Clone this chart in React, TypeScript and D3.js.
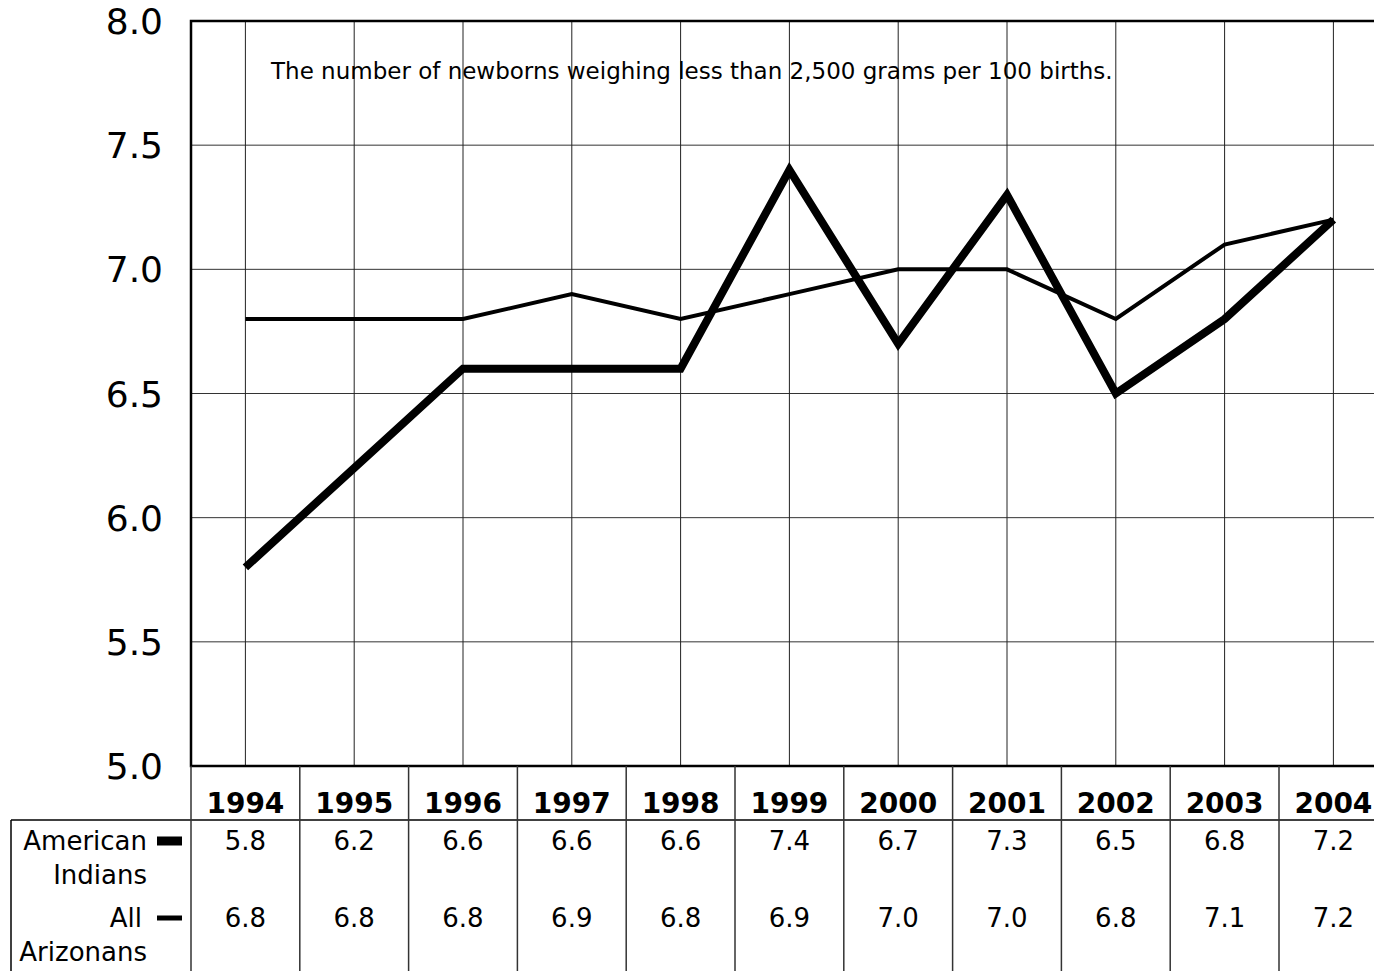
import React, { useEffect, useRef } from "react";
import * as d3 from "d3";

const years = ["1994", "1995", "1996", "1997", "1998", "1999", "2000", "2001", "2002", "2003", "2004"];
const americanIndians = [5.8, 6.2, 6.6, 6.6, 6.6, 7.4, 6.7, 7.3, 6.5, 6.8, 7.2];
const allArizonans = [6.8, 6.8, 6.8, 6.9, 6.8, 6.9, 7.0, 7.0, 6.8, 7.1, 7.2];
const yTicks = [5.0, 5.5, 6.0, 6.5, 7.0, 7.5, 8.0];
const note = "The number of newborns weighing less than 2,500 grams per 100 births.";

const FONT = "'DejaVu Sans', Verdana, sans-serif";

const App = () => {
  const svgRef = useRef<SVGSVGElement>(null);

  useEffect(() => {
    const width = 1374;
    const height = 971;
    const svg = d3.select(svgRef.current);
    svg.selectAll("*").remove();
    svg.attr("width", width).attr("height", height);

    const left = 191;
    const top = 21;
    const bottom = 766;
    const band = 108.8;

    const x = d3
      .scaleBand()
      .domain(years)
      .range([left, left + band * years.length])
      .padding(0);
    const cx = (d: string) => (x(d) as number) + x.bandwidth() / 2;

    const y = d3.scaleLinear().domain([5, 8]).range([bottom, top]);

    // grid
    svg
      .append("g")
      .selectAll("line")
      .data(yTicks.slice(1, -1))
      .enter()
      .append("line")
      .attr("x1", left)
      .attr("x2", width)
      .attr("y1", (d) => y(d))
      .attr("y2", (d) => y(d))
      .attr("stroke", "#333")
      .attr("stroke-width", 1);

    svg
      .append("g")
      .selectAll("line")
      .data(years)
      .enter()
      .append("line")
      .attr("x1", cx)
      .attr("x2", cx)
      .attr("y1", top)
      .attr("y2", bottom)
      .attr("stroke", "#222")
      .attr("stroke-width", 1);

    // frame
    svg
      .append("path")
      .attr("d", `M${width},${top}H${left}V${bottom}H${width}`)
      .attr("fill", "none")
      .attr("stroke", "#000")
      .attr("stroke-width", 2.5);

    // y labels
    svg
      .append("g")
      .selectAll("text")
      .data(yTicks)
      .enter()
      .append("text")
      .attr("x", 163)
      .attr("y", (d) => y(d) + 13)
      .attr("text-anchor", "end")
      .style("font-family", FONT)
      .style("font-size", "36px")
      .text((d) => d.toFixed(1));

    // note
    svg
      .append("text")
      .attr("x", 271)
      .attr("y", 79)
      .style("font-family", FONT)
      .style("font-size", "23px")
      .text(note);

    // lines
    const line = d3
      .line<number>()
      .x((_, i) => cx(years[i]))
      .y((d) => y(d));

    svg
      .append("path")
      .datum(allArizonans)
      .attr("d", line)
      .attr("fill", "none")
      .attr("stroke", "#000")
      .attr("stroke-width", 4);

    svg
      .append("path")
      .datum(americanIndians)
      .attr("d", line)
      .attr("fill", "none")
      .attr("stroke", "#000")
      .attr("stroke-width", 8);

    // table
    const tableTop = 820;
    svg
      .append("line")
      .attr("x1", 11)
      .attr("x2", width)
      .attr("y1", tableTop)
      .attr("y2", tableTop)
      .attr("stroke", "#000")
      .attr("stroke-width", 1.5);
    svg
      .append("line")
      .attr("x1", 11)
      .attr("x2", 11)
      .attr("y1", tableTop)
      .attr("y2", height)
      .attr("stroke", "#000")
      .attr("stroke-width", 1.5);

    svg
      .append("g")
      .selectAll("line")
      .data(years)
      .enter()
      .append("line")
      .attr("x1", (d) => x(d) as number)
      .attr("x2", (d) => x(d) as number)
      .attr("y1", bottom)
      .attr("y2", height)
      .attr("stroke", "#333")
      .attr("stroke-width", 1.5);

    svg
      .append("g")
      .selectAll("text")
      .data(years)
      .enter()
      .append("text")
      .attr("x", cx)
      .attr("y", 813)
      .attr("text-anchor", "middle")
      .style("font-family", FONT)
      .style("font-size", "28px")
      .style("font-weight", "bold")
      .text((d) => d);

    const rows = [
      { lines: ["American", "Indians"], values: americanIndians, base: 850, swatch: 9 },
      { lines: ["All", "Arizonans"], values: allArizonans, base: 927, swatch: 5 },
    ];

    rows.forEach((r) => {
      r.lines.forEach((t, i) => {
        svg
          .append("text")
          .attr("x", i === 0 && t === "All" ? 142 : 147)
          .attr("y", r.base + i * 34)
          .attr("text-anchor", "end")
          .style("font-family", FONT)
          .style("font-size", "26px")
          .text(t);
      });
      svg
        .append("rect")
        .attr("x", 157)
        .attr("y", r.base - 9 - r.swatch / 2)
        .attr("width", 25)
        .attr("height", r.swatch)
        .attr("fill", "#000");

      svg
        .append("g")
        .selectAll("text")
        .data(r.values)
        .enter()
        .append("text")
        .attr("x", (_, i) => cx(years[i]))
        .attr("y", r.base)
        .attr("text-anchor", "middle")
        .style("font-family", FONT)
        .style("font-size", "26px")
        .text((d) => d.toFixed(1));
    });
  }, []);

  return (
    <svg
      ref={svgRef}
      style={{ position: "absolute", left: 0, top: 0, background: "#fff" }}
    ></svg>
  );
};

export default App;
